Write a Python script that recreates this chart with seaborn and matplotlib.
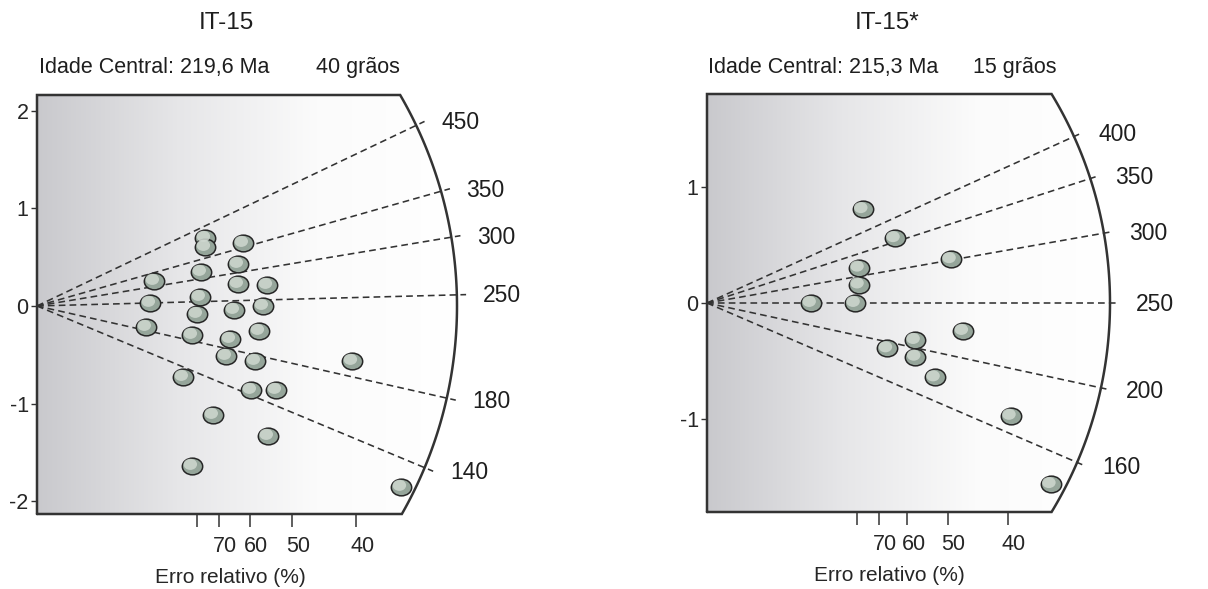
import numpy as np
import seaborn as sns
import matplotlib.pyplot as plt
from matplotlib.path import Path
from matplotlib.patches import PathPatch
from matplotlib.colors import LinearSegmentedColormap
from matplotlib.transforms import ScaledTranslation, Affine2D

# values
# x = precision (100 / relative error %), y = standardised estimate
it15_x = [1.317, 1.317, 1.614, 0.917, 1.285, 1.575, 1.575, 1.803, 0.886, 1.277,
          1.254, 1.544, 1.771, 0.854, 1.215, 1.513, 1.740, 1.481, 1.708, 2.469,
          1.144, 1.677, 1.873, 1.379, 1.810, 1.215, 2.853]
it15_y = [0.696, 0.604, 0.645, 0.256, 0.348, 0.430, 0.225, 0.215, 0.031, 0.092,
          -0.082, -0.041, 0.000, -0.215, -0.297, -0.338, -0.256, -0.512, -0.563, -0.563,
          -0.727, -0.860, -0.860, -1.116, -1.331, -1.638, -1.853]
it15_ages = [450, 350, 300, 250, 180, 140]
it15_ref = 241.5

it15s_x = [1.293, 1.561, 2.027, 1.262, 1.262, 0.864, 1.229, 2.129, 1.728, 1.498,
           1.733, 1.894, 2.525, 2.857]
it15s_y = [0.808, 0.558, 0.377, 0.304, 0.159, 0.000, 0.000, -0.241, -0.319, -0.391,
           -0.463, -0.641, -0.972, -1.560]
it15s_ages = [400, 350, 300, 250, 200, 160]
it15s_ref = 250

err_ticks = [80, 70, 60, 50, 40]
err_labels = ['', '70', '60', '50', '40']
yticks_left = [-2, -1, 0, 1, 2]
yticks_right = [-1, 0, 1]

sns.set_theme(style='white')
plt.rcParams['font.family'] = ['Liberation Sans', 'DejaVu Sans']
plt.rcParams['text.color'] = '#1e1e1e'

W, H = 1208, 589
fig = plt.figure(figsize=(W / 100, H / 100), dpi=100)

grad_cmap = LinearSegmentedColormap.from_list('box', ['#c9c9cd', '#e6e6e8', '#fbfbfb', '#ffffff'])
uc = Path.unit_circle()
ellipse = Path(Affine2D().scale(1, 0.82).transform(uc.vertices), uc.codes)
XMAX = 3.4


def radial_panel(px_rect, ylim, radius_px, xs, ys, ages, ref, yticks):
    x0, y0, w, h = px_rect
    ax = fig.add_axes([x0 / W, 1 - (y0 + h) / H, w / W, h / H])
    for s in ax.spines.values():
        s.set_visible(False)
    xppu = w / XMAX
    yppu = h / (ylim[1] - ylim[0])
    rx = radius_px / xppu
    ry = radius_px / yppu

    # box outline: left, top, arc, bottom
    th = np.linspace(np.arcsin(ylim[1] / ry), np.arcsin(ylim[0] / ry), 120)
    vx = np.concatenate([[0, 0], rx * np.cos(th), [0]])
    vy = np.concatenate([[ylim[0], ylim[1]], ry * np.sin(th), [ylim[0]]])
    clip = PathPatch(Path(np.column_stack([vx, vy])), transform=ax.transData,
                     facecolor='none', edgecolor='none')
    grad = np.linspace(0, 1, 256).reshape(1, -1)
    im = ax.imshow(grad, extent=(0, rx, ylim[0], ylim[1]), aspect='auto',
                   cmap=grad_cmap, origin='lower', zorder=0)
    im.set_clip_path(clip)
    ax.plot(vx, vy, color='#333333', lw=1.8, clip_on=False, zorder=2,
            solid_joinstyle='miter')

    # age lines
    for age in ages:
        m = np.log(age / ref)
        t = radius_px * 1.022 / np.hypot(xppu, m * yppu)
        ax.plot([0, t], [0, t * m], ls=(0, (4.2, 2.6)), color='#333333', lw=1.15,
                clip_on=False, zorder=1)
        ax.annotate(str(age), (t, t * m), xytext=(12, -1), textcoords='offset points',
                    ha='left', va='center', fontsize=16.5, annotation_clip=False)

    # grains
    sns.scatterplot(x=xs, y=ys, ax=ax, marker=ellipse, s=215, color='#95a59a',
                    edgecolor='#262626', linewidth=1.1, zorder=3)
    ax.scatter(xs, ys, marker=ellipse, s=95, color='#cfd8d0', edgecolor='none',
               alpha=0.85, zorder=4,
               transform=ax.transData + ScaledTranslation(-1.8 / 100, 1.6 / 100, fig.dpi_scale_trans))

    ax.set_xlim(0, XMAX)
    ax.set_ylim(*ylim)
    ax.set_yticks(yticks)
    ax.set_yticklabels([str(v) for v in yticks])
    ax.set_xticks([100 / e for e in err_ticks])
    ax.set_xticklabels(err_labels)
    ax.tick_params(axis='y', left=True, length=4, width=1, color='#333333',
                   labelsize=15.5, pad=2)
    ax.tick_params(axis='x', bottom=True, length=9.5, width=1.1, color='#333333',
                   labelsize=15.5, pad=6)
    for lab in ax.get_xticklabels():
        lab.set_transform(lab.get_transform() + ScaledTranslation(6 / 100, 0, fig.dpi_scale_trans))
    ax.set_xlabel('Erro relativo (%)', fontsize=15)
    ax.xaxis.set_label_coords(0.445, -0.128)
    ax.grid(False)
    return ax


radial_panel((37, 95, 434, 419), (-2.13, 2.16), 420, it15_x, it15_y,
             it15_ages, it15_ref, yticks_left)
radial_panel((707, 94, 409, 418), (-1.80, 1.80), 403, it15s_x, it15s_y,
             it15s_ages, it15s_ref, yticks_right)

fig.text(226 / W, 1 - 23 / H, 'IT-15', ha='center', va='center', fontsize=17.5)
fig.text(887 / W, 1 - 23 / H, 'IT-15*', ha='center', va='center', fontsize=17.5)
fig.text(39 / W, 1 - 67 / H, 'Idade Central: 219,6 Ma', ha='left', va='center', fontsize=15.5)
fig.text(316 / W, 1 - 67 / H, '40 grãos', ha='left', va='center', fontsize=15.5)
fig.text(708 / W, 1 - 67 / H, 'Idade Central: 215,3 Ma', ha='left', va='center', fontsize=15.5)
fig.text(973 / W, 1 - 67 / H, '15 grãos', ha='left', va='center', fontsize=15.5)

fig.savefig('out.png', dpi=100, facecolor='white')
